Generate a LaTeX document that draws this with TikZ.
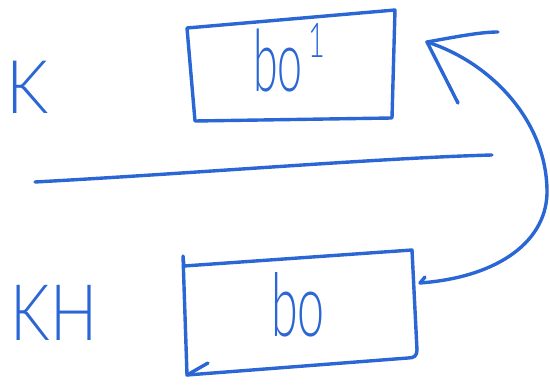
\documentclass[tikz,border=0pt]{standalone}
\usepackage{fontspec}
\newfontfamily\handfont{Lato}[UprightFont=* Light]
\definecolor{ink}{RGB}{42,102,212}
\begin{document}
\begin{tikzpicture}[x=1pt,y=-1pt,
  pen/.style={draw=ink, line width=3.4pt, line cap=round, line join=round},
  hand/.style={text=ink, inner sep=0pt, font=\handfont\fontsize{#1}{#1}\selectfont}]
\useasboundingbox (0,0) rectangle (550,385);

% row labels
\node[hand=74, xscale=0.9] (k) at (28,87) {K};
\node[hand=78, xscale=0.8] (kh) at (54,313) {KH};

% upper box and its content
\draw[pen] (187,28) -- (395,10) -- (392,118) -- (195,121) -- cycle;
\node[hand=86, xscale=0.52] (bo1) at (278,60) {bo};
\node[hand=48, xscale=0.6] (sup1) at (317,40) {1};

% dividing line
\coordinate (lineL) at (35,182);
\coordinate (lineR) at (492,155);
\draw[pen] (lineL) .. controls (200,173) and (380,158) .. (lineR);

% lower box and its content
\draw[pen] (183,256) -- (184,266) -- (412,250) -- (417,350)
  .. controls (417,356) and (414,358) .. (408,358) -- (187,375) -- cycle;
\draw[pen] (187,375) -- (208,363);
\node[hand=88, xscale=0.55] (bo) at (298,305) {bo};

% return arrow from the lower box to the upper box
\coordinate (tail) at (420,283);
\coordinate (tip) at (427,42);
\draw[pen] (tail) .. controls (500,277) and (548,240) .. (547,190)
  .. controls (546,120) and (490,62) .. (tip);
\draw[pen] (458,103) -- (tip) .. controls (455,37) and (480,32) .. (498,32);
\draw[pen] (425,277) -- (tail);
\end{tikzpicture}
\end{document}
